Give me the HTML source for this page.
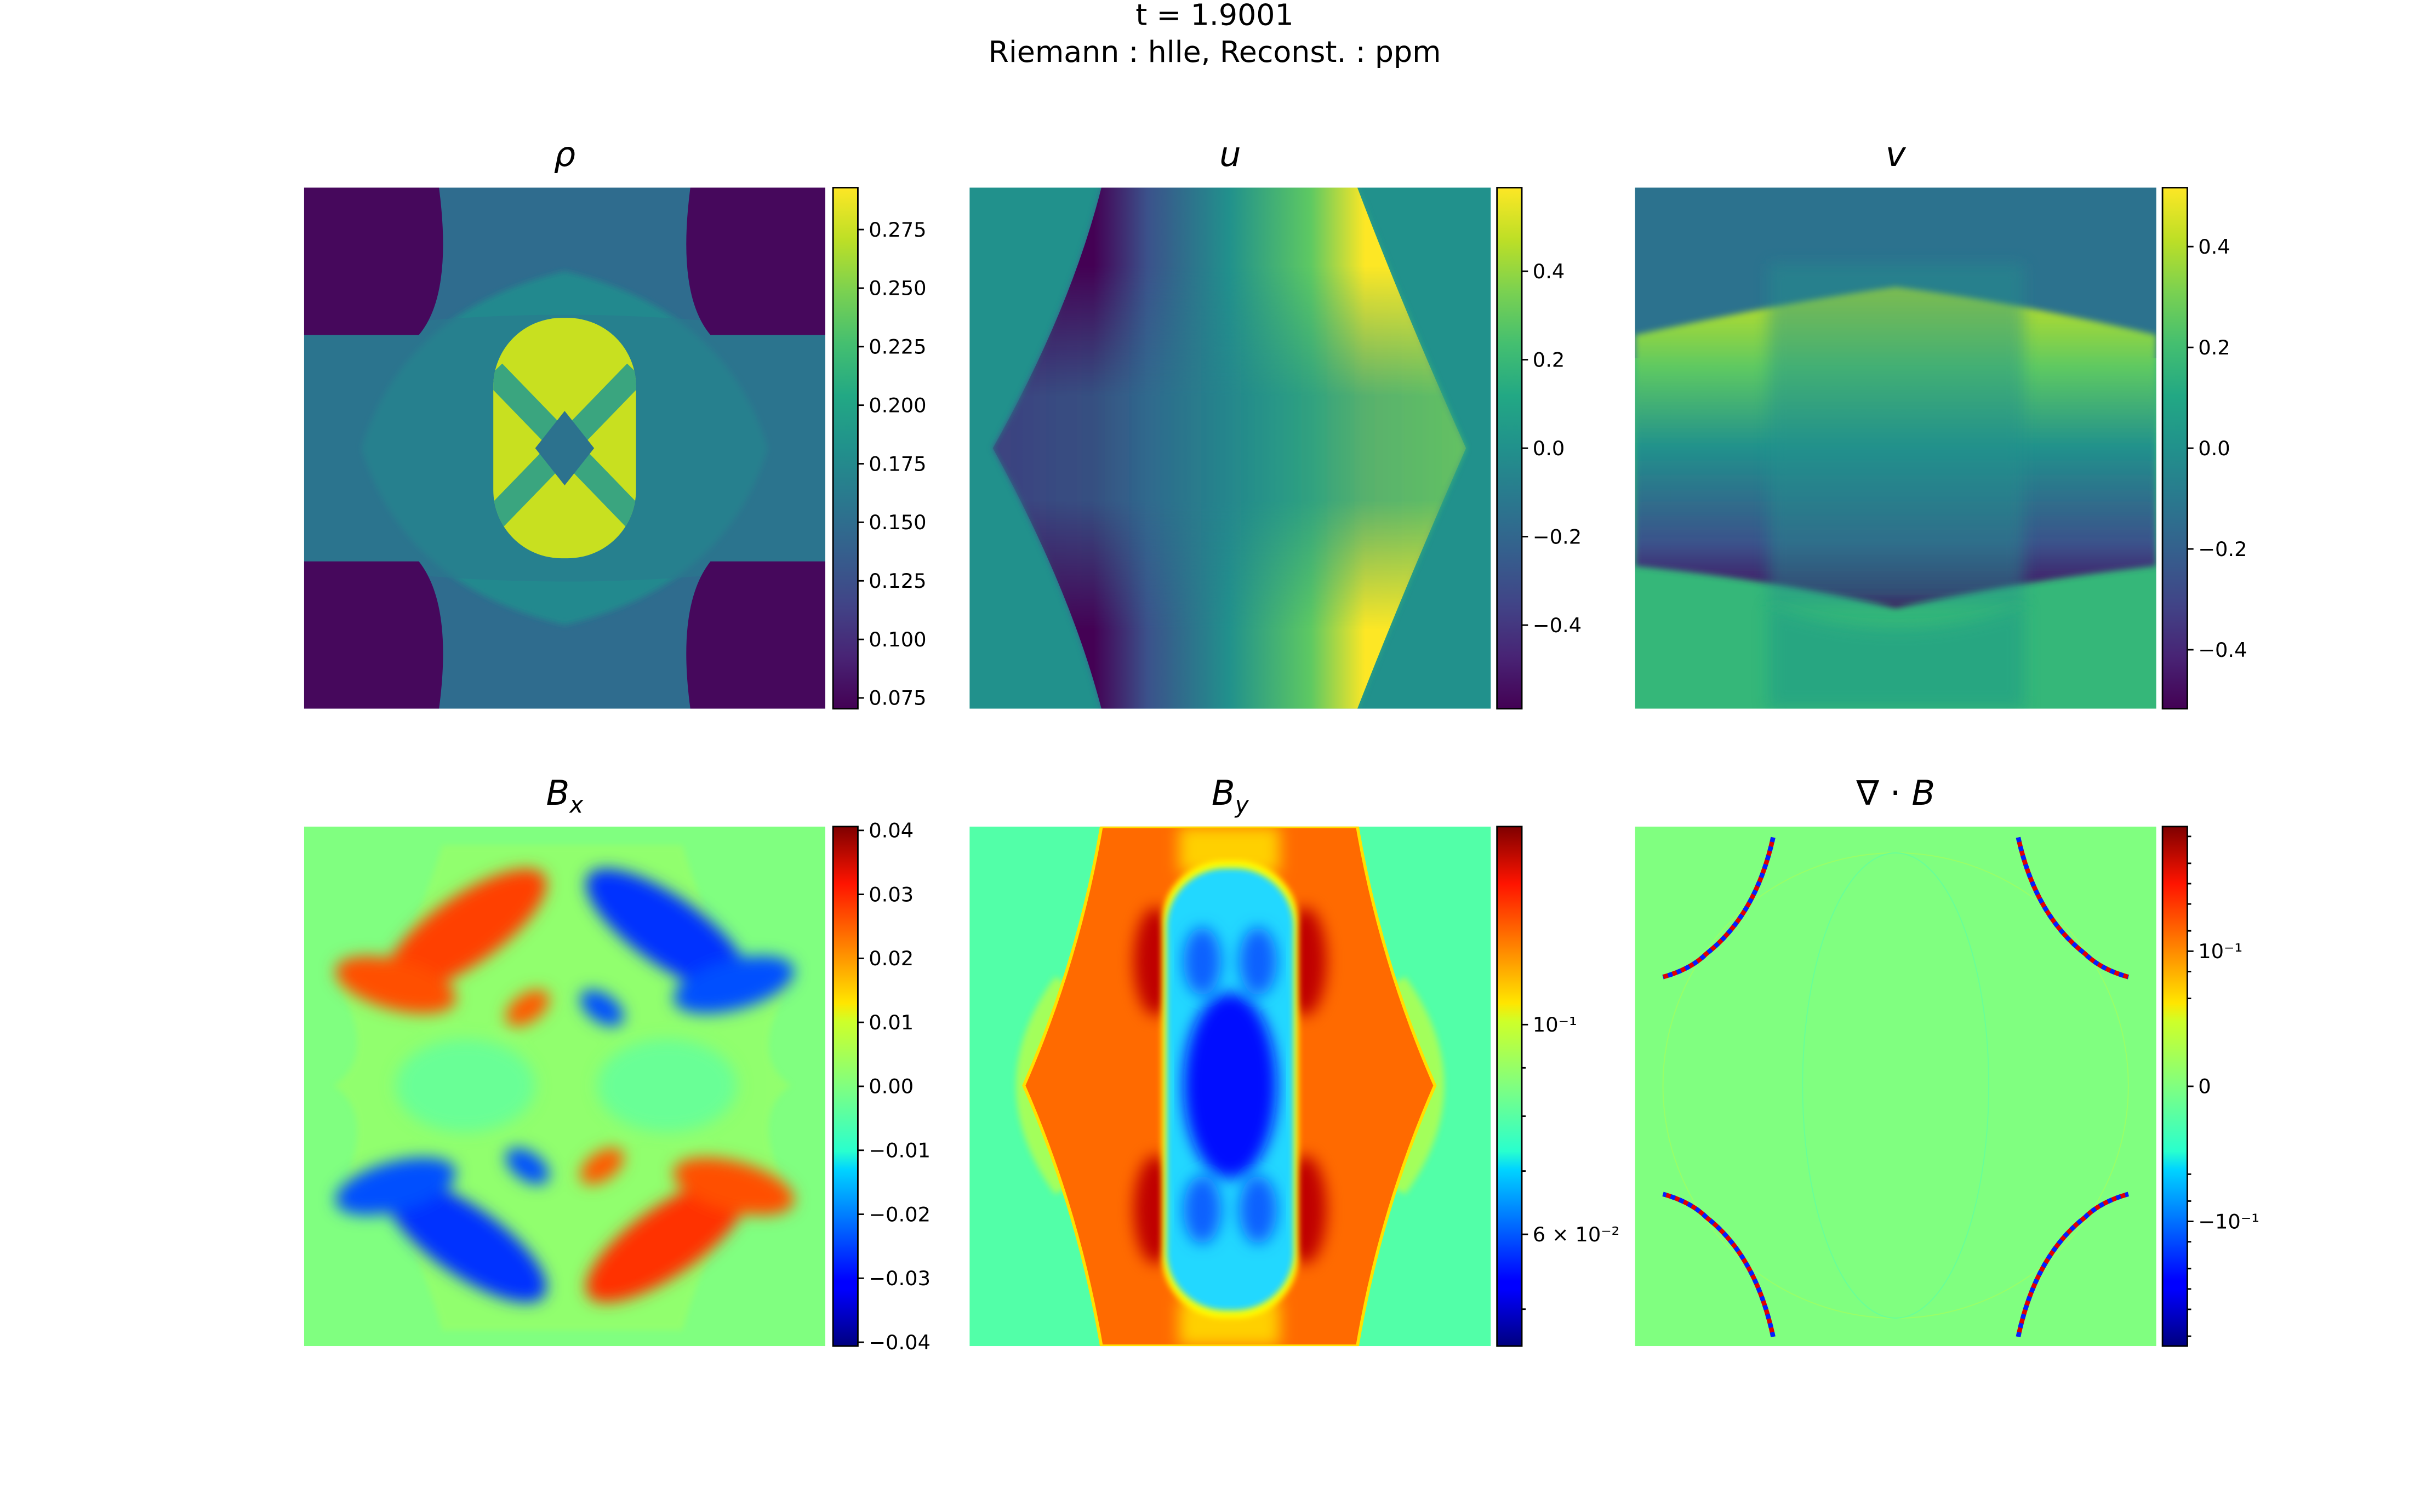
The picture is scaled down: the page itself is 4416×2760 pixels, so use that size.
<!DOCTYPE html>
<html><head><meta charset="utf-8"><style>
html,body{margin:0;padding:0;background:#fff;}
svg{display:block;font-family:"DejaVu Sans","Liberation Sans",sans-serif;}
</style></head><body>
<svg id="fig" width="4416" height="2760" viewBox="0 0 1560 975" preserveAspectRatio="none" xmlns="http://www.w3.org/2000/svg">
<defs>
<linearGradient id="viridis" x1="0" y1="1" x2="0" y2="0">
<stop offset="0" stop-color="#440154"/><stop offset=".1" stop-color="#482475"/><stop offset=".2" stop-color="#414487"/><stop offset=".3" stop-color="#355f8d"/><stop offset=".4" stop-color="#2a788e"/><stop offset=".5" stop-color="#21918c"/><stop offset=".6" stop-color="#22a884"/><stop offset=".7" stop-color="#44bf70"/><stop offset=".8" stop-color="#7ad151"/><stop offset=".9" stop-color="#bddf26"/><stop offset="1" stop-color="#fde725"/>
</linearGradient>
<linearGradient id="jet" x1="0" y1="1" x2="0" y2="0">
<stop offset="0" stop-color="#00007f"/><stop offset=".11" stop-color="#0000ff"/><stop offset=".125" stop-color="#0000ff"/><stop offset=".34" stop-color="#00d4ff"/><stop offset=".375" stop-color="#29ffce"/><stop offset=".5" stop-color="#80ff80"/><stop offset=".625" stop-color="#ceff29"/><stop offset=".66" stop-color="#ffe600"/><stop offset=".89" stop-color="#ff1400"/><stop offset="1" stop-color="#7f0000"/>
</linearGradient>
<linearGradient id="uband" gradientUnits="userSpaceOnUse" x1="705" y1="0" x2="880" y2="0">
<stop offset="0" stop-color="#440154"/><stop offset=".2" stop-color="#3b528b"/><stop offset=".5" stop-color="#21918c"/><stop offset=".8" stop-color="#5ec962"/><stop offset="1" stop-color="#fde725"/>
</linearGradient>
<linearGradient id="ulens" gradientUnits="userSpaceOnUse" x1="640" y1="0" x2="945" y2="0">
<stop offset="0" stop-color="#3b528b"/><stop offset=".3" stop-color="#2f6c8e"/><stop offset=".6" stop-color="#21918c"/><stop offset="1" stop-color="#3db972"/>
</linearGradient>
<linearGradient id="umaskg" gradientUnits="userSpaceOnUse" x1="0" y1="121" x2="0" y2="457">
<stop offset="0" stop-color="#fff"/><stop offset=".15" stop-color="#fff"/><stop offset=".4" stop-color="#333"/><stop offset=".6" stop-color="#333"/><stop offset=".85" stop-color="#fff"/><stop offset="1" stop-color="#fff"/>
</linearGradient>
<mask id="umask" maskUnits="userSpaceOnUse" x="625" y="121" width="336" height="336"><rect x="625" y="121" width="336" height="336" fill="url(#umaskg)"/></mask>
<linearGradient id="vmid" x1="0" y1="0" x2="0" y2="1">
<stop offset="0" stop-color="#c8e020"/><stop offset=".25" stop-color="#5ec962"/><stop offset=".5" stop-color="#21918c"/><stop offset=".8" stop-color="#3b528b"/><stop offset="1" stop-color="#440154"/>
</linearGradient>
<filter id="blur2"><feGaussianBlur stdDeviation="2"/></filter>
<filter id="blur5"><feGaussianBlur stdDeviation="5"/></filter>
<clipPath id="c1"><rect x="196" y="121" width="336" height="336"/></clipPath>
<clipPath id="c2"><rect x="625" y="121" width="336" height="336"/></clipPath>
<clipPath id="c3"><rect x="1054" y="121" width="336" height="336"/></clipPath>
<clipPath id="c4"><rect x="196" y="533" width="336" height="335"/></clipPath>
<clipPath id="c5"><rect x="625" y="533" width="336" height="335"/></clipPath>
<clipPath id="c6"><rect x="1054" y="533" width="336" height="335"/></clipPath>
<clipPath id="pill"><rect x="318" y="205" width="92" height="155" rx="44"/></clipPath>
</defs>

<text x="783" y="16" font-size="19" text-anchor="middle">t = 1.9001</text>
<text x="783" y="40" font-size="19" text-anchor="middle">Riemann : hlle, Reconst. : ppm</text>

<!-- rho -->
<text x="364" y="107" font-size="22" font-style="italic" text-anchor="middle">ρ</text>
<g clip-path="url(#c1)">
<rect x="196" y="121" width="336" height="336" fill="#2f6c8e"/>
<path d="M233,289Q260,200 364,175Q468,200 495,289Q468,378 364,403Q260,378 233,289Z" fill="#23898e" filter="url(#blur2)"/>
<path d="M196,216Q364,190 532,216V362Q364,388 196,362Z" fill="#297a8e" opacity="0.6"/>
<path d="M196,121H283Q292,190 270,216H196Z" fill="#46085c"/>
<path d="M532,121H445Q436,190 458,216H532Z" fill="#46085c"/>
<path d="M196,457H283Q292,390 270,362H196Z" fill="#46085c"/>
<path d="M532,457H445Q436,390 458,362H532Z" fill="#46085c"/>
<rect x="318" y="205" width="92" height="155" rx="44" fill="#c8e020"/>
<g clip-path="url(#pill)"><path d="M318,240L410,335M410,240L318,335" stroke="#3aa57f" stroke-width="16"/><path d="M345,289L364,265L383,289L364,313Z" fill="#2c728e"/></g>
</g>
<rect x="537" y="121" width="16" height="336" fill="url(#viridis)" stroke="#000" stroke-width="1"/>
<g id="cb-rho"></g>

<!-- u -->
<text x="793" y="107" font-size="22" font-style="italic" text-anchor="middle">u</text>
<g clip-path="url(#c2)">
<rect x="625" y="121" width="336" height="336" fill="#21918c"/>
<path d="M710,121H875Q905,200 945,289Q905,380 875,457H710Q690,380 640,289Q690,200 710,121Z" fill="url(#ulens)" filter="url(#blur2)"/>
<path d="M710,121H875Q905,200 945,289Q905,380 875,457H710Q690,380 640,289Q690,200 710,121Z" fill="url(#uband)" mask="url(#umask)"/>
</g>
<rect x="965" y="121" width="16" height="336" fill="url(#viridis)" stroke="#000" stroke-width="1"/>
<g id="cb-u"></g>

<!-- v -->
<text x="1222" y="107" font-size="22" font-style="italic" text-anchor="middle">v</text>
<g clip-path="url(#c3)">
<rect x="1054" y="121" width="336" height="336" fill="#35b779"/>
<rect x="1054" y="121" width="336" height="110" fill="#2c728e"/>
<path d="M1054,216Q1150,195 1222,185Q1300,195 1390,216V365Q1300,375 1222,392Q1150,375 1054,365Z" fill="url(#vmid)" filter="url(#blur2)"/>
<rect x="1140" y="170" width="165" height="220" fill="#21918c" opacity="0.45" filter="url(#blur5)"/>
<path d="M1140,390Q1222,420 1305,390V457H1140Z" fill="#22a085" opacity="0.7" filter="url(#blur5)"/>
</g>
<rect x="1394" y="121" width="16" height="336" fill="url(#viridis)" stroke="#000" stroke-width="1"/>
<g id="cb-v"></g>

<!-- Bx -->
<text x="364" y="519" font-size="22" font-style="italic" text-anchor="middle">B<tspan font-size="15" dy="5">x</tspan></text>
<g clip-path="url(#c4)">
<rect x="196" y="533" width="336" height="335" fill="#80ff80"/>
<path d="M285,545L440,545Q450,580 470,620L512,632Q480,680 510,700Q480,720 512,775L470,785Q450,820 440,858L285,858Q275,820 255,785L216,775Q245,720 215,700Q245,680 216,632L255,620Q275,580 285,545Z" fill="#a0ff60" opacity="0.55" filter="url(#blur2)"/>
<g filter="url(#blur5)">
<ellipse cx="300" cy="600" rx="62" ry="22" transform="rotate(-35 300 600)" fill="#ff4000"/>
<ellipse cx="255" cy="635" rx="40" ry="16" transform="rotate(15 255 635)" fill="#ff5000"/>
<ellipse cx="430" cy="600" rx="62" ry="22" transform="rotate(35 430 600)" fill="#0030ff"/>
<ellipse cx="473" cy="635" rx="40" ry="16" transform="rotate(-15 473 635)" fill="#0050ff"/>
<ellipse cx="300" cy="800" rx="62" ry="22" transform="rotate(35 300 800)" fill="#0030ff"/>
<ellipse cx="255" cy="765" rx="40" ry="16" transform="rotate(-15 255 765)" fill="#0050ff"/>
<ellipse cx="430" cy="800" rx="62" ry="22" transform="rotate(-35 430 800)" fill="#ff3000"/>
<ellipse cx="473" cy="765" rx="40" ry="16" transform="rotate(15 473 765)" fill="#ff5000"/>
<ellipse cx="340" cy="650" rx="16" ry="9" transform="rotate(-35 340 650)" fill="#ff5a00"/>
<ellipse cx="388" cy="650" rx="16" ry="9" transform="rotate(35 388 650)" fill="#0050ff"/>
<ellipse cx="340" cy="752" rx="16" ry="9" transform="rotate(35 340 752)" fill="#0050ff"/>
<ellipse cx="388" cy="752" rx="16" ry="9" transform="rotate(-35 388 752)" fill="#ff5a00"/>
<ellipse cx="300" cy="700" rx="45" ry="30" fill="#50ffb0" opacity="0.6"/>
<ellipse cx="430" cy="700" rx="45" ry="30" fill="#50ffb0" opacity="0.6"/>
</g>
</g>
<rect x="537" y="533" width="16" height="335" fill="url(#jet)" stroke="#000" stroke-width="1"/>
<g id="cb-bx"></g>

<!-- By -->
<text x="793" y="519" font-size="22" font-style="italic" text-anchor="middle">B<tspan font-size="15" dy="5">y</tspan></text>
<g clip-path="url(#c5)">
<rect x="625" y="533" width="336" height="335" fill="#52ffa8"/>
<path d="M680,630Q630,700 680,770L720,750V650Z" fill="#b8ff48" opacity="0.8" filter="url(#blur2)"/>
<path d="M906,630Q956,700 906,770L866,750V650Z" fill="#b8ff48" opacity="0.8" filter="url(#blur2)"/>
<path d="M710,533H875Q890,620 925,700Q890,780 875,868H710Q695,780 660,700Q695,620 710,533Z" fill="#ff6a00" stroke="#ffe000" stroke-width="2"/>
<g filter="url(#blur5)">
<rect x="760" y="533" width="65" height="30" fill="#ffd000"/>
<rect x="760" y="838" width="65" height="30" fill="#ffd000"/>
<ellipse cx="745" cy="620" rx="14" ry="35" fill="#c00000"/>
<ellipse cx="841" cy="620" rx="14" ry="35" fill="#c00000"/>
<ellipse cx="745" cy="780" rx="14" ry="35" fill="#c00000"/>
<ellipse cx="841" cy="780" rx="14" ry="35" fill="#c00000"/>
</g>
<rect x="749" y="555" width="88" height="295" rx="40" fill="#ffff00" filter="url(#blur2)"/>
<rect x="752" y="560" width="82" height="285" rx="38" fill="#20d8ff" filter="url(#blur2)"/>
<g filter="url(#blur5)"><ellipse cx="793" cy="700" rx="30" ry="60" fill="#0010ff"/><ellipse cx="775" cy="620" rx="12" ry="22" fill="#1060ff"/><ellipse cx="811" cy="620" rx="12" ry="22" fill="#1060ff"/><ellipse cx="775" cy="780" rx="12" ry="22" fill="#1060ff"/><ellipse cx="811" cy="780" rx="12" ry="22" fill="#1060ff"/></g>
</g>
<rect x="965" y="533" width="16" height="335" fill="url(#jet)" stroke="#000" stroke-width="1"/>
<g id="cb-by"></g>

<!-- divB -->
<text x="1222" y="519" font-size="22" text-anchor="middle">∇ · <tspan font-style="italic">B</tspan></text>
<g clip-path="url(#c6)">
<rect x="1054" y="533" width="336" height="335" fill="#80ff80"/>
<ellipse cx="1222" cy="700" rx="150" ry="150" fill="none" stroke="#98ff68" stroke-width="0.7"/>
<ellipse cx="1222" cy="700" rx="60" ry="150" fill="none" stroke="#68ff98" stroke-width="0.7"/>
<g fill="none" stroke-width="3">
<path d="M1143,540Q1132,590 1100,615Q1090,625 1072,630" stroke="#e00000"/>
<path d="M1301,540Q1312,590 1344,615Q1354,625 1372,630" stroke="#e00000"/>
<path d="M1143,862Q1132,810 1100,785Q1090,775 1072,770" stroke="#e00000"/>
<path d="M1301,862Q1312,810 1344,785Q1354,775 1372,770" stroke="#e00000"/>
</g>
<g fill="none" stroke-width="3" stroke-dasharray="3 3">
<path d="M1143,540Q1132,590 1100,615Q1090,625 1072,630" stroke="#0020ff"/>
<path d="M1301,540Q1312,590 1344,615Q1354,625 1372,630" stroke="#0020ff"/>
<path d="M1143,862Q1132,810 1100,785Q1090,775 1072,770" stroke="#0020ff"/>
<path d="M1301,862Q1312,810 1344,785Q1354,775 1372,770" stroke="#0020ff"/>
</g>
</g>
<rect x="1394" y="533" width="16" height="335" fill="url(#jet)" stroke="#000" stroke-width="1"/>
<g id="cb-divb"></g>

<script>
// Colorbar data
const rhoTicks = [0.075,0.100,0.125,0.150,0.175,0.200,0.225,0.250,0.275];
const rhoLabels = ["0.075","0.100","0.125","0.150","0.175","0.200","0.225","0.250","0.275"];
const rhoRange = [0.0704,0.2929];
const uTicks = [-0.4,-0.2,0.0,0.2,0.4];
const uLabels = ["\u22120.4","\u22120.2","0.0","0.2","0.4"];
const uRange = [-0.589,0.589];
const vTicks = [-0.4,-0.2,0.0,0.2,0.4];
const vLabels = ["\u22120.4","\u22120.2","0.0","0.2","0.4"];
const vRange = [-0.517,0.517];
const bxTicks = [-0.04,-0.03,-0.02,-0.01,0.0,0.01,0.02,0.03,0.04];
const bxLabels = ["\u22120.04","\u22120.03","\u22120.02","\u22120.01","0.00","0.01","0.02","0.03","0.04"];
const bxRange = [-0.0406,0.0406];
const byTicks = [0.06,0.1];
const byLabels = ["6 \u00d7 10\u207b\u00b2","10\u207b\u00b9"];
const byMinor = [0.05,0.07,0.08,0.09];
const byRange = [0.0457,0.162];
const divTicks = [-0.1,0,0.1];
const divLabels = ["\u221210\u207b\u00b9","0","10\u207b\u00b9"];
const divMinor = [-5,-2,-1,-0.5,-0.2,-0.05,-0.02,0.02,0.05,0.2,0.5,1,2,5];
const divMax = 7;

const NS="http://www.w3.org/2000/svg";
function linScale(r,y0,y1){return v=>y1-(v-r[0])/(r[1]-r[0])*(y1-y0);}
function logScale(r,y0,y1){const a=Math.log10(r[0]),b=Math.log10(r[1]);return v=>y1-(Math.log10(v)-a)/(b-a)*(y1-y0);}
function symlogScale(max,y0,y1){const L=0.01;const f=v=>{const a=Math.abs(v);const s=a<=L?a/L:1+Math.log10(a/L);return Math.sign(v)*s;};const m=f(max);const mid=(y0+y1)/2;return v=>mid-f(v)/m*(y1-y0)/2;}
function drawBar(gid,x,ticks,labels,minor,scale){
  const g=document.getElementById(gid);
  ticks.forEach((t,i)=>{
    const y=scale(t);
    const ln=document.createElementNS(NS,"line");
    
    
    ln.setAttribute("x1",x);ln.setAttribute("x2",x+4);ln.setAttribute("y1",y);ln.setAttribute("y2",y);ln.setAttribute("stroke","#000");
    g.appendChild(ln);
    const tx=document.createElementNS(NS,"text");
    
    
    tx.setAttribute("x",x+7);tx.setAttribute("y",y+4.5);tx.setAttribute("font-size","13");
    tx.textContent=labels[i];g.appendChild(tx);
  });
  minor.forEach(t=>{
    const y=scale(t);
    const ln=document.createElementNS(NS,"line");
    
    
    ln.setAttribute("x1",x);ln.setAttribute("x2",x+2.5);ln.setAttribute("y1",y);ln.setAttribute("y2",y);ln.setAttribute("stroke","#000");
    g.appendChild(ln);
  });
}
drawBar("cb-rho",553,rhoTicks,rhoLabels,[],linScale(rhoRange,121,457));
drawBar("cb-u",981,uTicks,uLabels,[],linScale(uRange,121,457));
drawBar("cb-v",1410,vTicks,vLabels,[],linScale(vRange,121,457));
drawBar("cb-bx",553,bxTicks,bxLabels,[],linScale(bxRange,533,868));
drawBar("cb-by",981,byTicks,byLabels,byMinor,logScale(byRange,533,868));
drawBar("cb-divb",1410,divTicks,divLabels,divMinor,symlogScale(divMax,533,868));
</script>
</svg>
</body></html>
